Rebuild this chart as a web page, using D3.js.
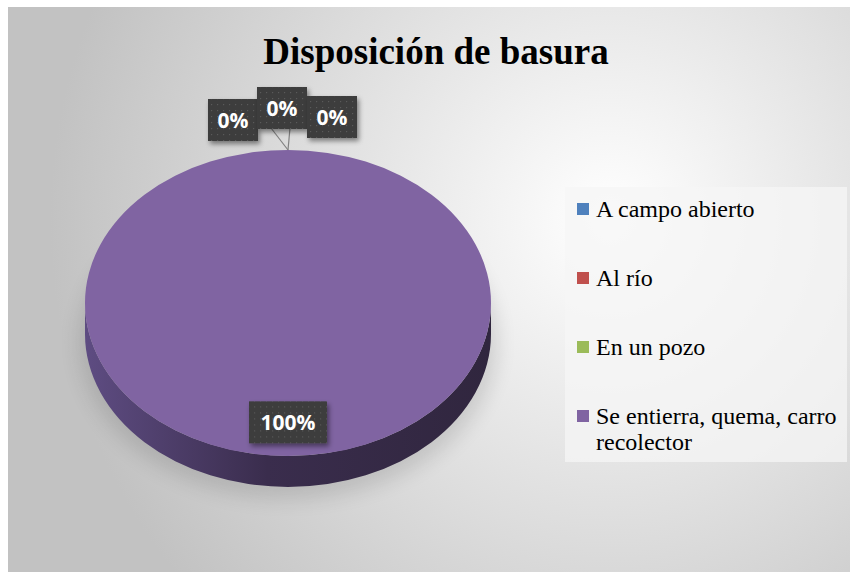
<!DOCTYPE html>
<html>
<head>
  <title>Disposición de basura</title>
  <style>
    body { margin: 0; background: #ffffff; }
    svg { display: block; }
  </style>
</head>
<body>
  <div id="chart"></div>

  <script src="https://d3js.org/d3.v7.min.js"></script>
  <script>
    // Chart data
    var title = "Disposición de basura";
    var categories = ["A campo abierto", "Al río", "En un pozo", "Se entierra, quema, carro recolector"];
    var values = [0, 0, 0, 100];
    var colors = ["#4f81bd", "#c0504d", "#9bbb59", "#8064a2"];

    var width = 850, height = 572;

    var svg = d3.select("#chart")
      .append("svg")
      .attr("width", width)
      .attr("height", height);

    var defs = svg.append("defs");

    // background gradient of the chart area
    var bg = defs.append("radialGradient")
      .attr("id", "bg")
      .attr("gradientUnits", "userSpaceOnUse")
      .attr("cx", 610).attr("cy", 220).attr("r", 560);
    bg.append("stop").attr("offset", "0%").attr("stop-color", "#ffffff");
    bg.append("stop").attr("offset", "100%").attr("stop-color", "#c2c2c2");

    // side of the pie
    var side = defs.append("linearGradient")
      .attr("id", "side")
      .attr("x1", "0%").attr("x2", "100%").attr("y1", "0%").attr("y2", "0%");
    side.append("stop").attr("offset", "0%").attr("stop-color", "#5e4c82");
    side.append("stop").attr("offset", "45%").attr("stop-color", "#3a2d4d");
    side.append("stop").attr("offset", "100%").attr("stop-color", "#30263e");

    var blur = defs.append("filter").attr("id", "blur")
      .attr("x", "-20%").attr("y", "-20%").attr("width", "140%").attr("height", "140%");
    blur.append("feGaussianBlur").attr("stdDeviation", 10);

    var shadow = defs.append("filter").attr("id", "shadow")
      .attr("x", "-30%").attr("y", "-30%").attr("width", "160%").attr("height", "160%");
    shadow.append("feDropShadow")
      .attr("dx", 2).attr("dy", 3).attr("stdDeviation", 2.5)
      .attr("flood-color", "#000").attr("flood-opacity", 0.45);

    // dotted texture for label boxes
    var pat = defs.append("pattern")
      .attr("id", "dots")
      .attr("patternUnits", "userSpaceOnUse")
      .attr("width", 6).attr("height", 6);
    pat.append("rect").attr("width", 6).attr("height", 6).attr("fill", "#3c3c3c");
    pat.append("rect").attr("x", 2).attr("y", 2).attr("width", 1.2).attr("height", 1.2).attr("fill", "#5a5a5a");

    svg.append("rect")
      .attr("x", 8).attr("y", 7)
      .attr("width", width - 8).attr("height", height - 7)
      .attr("fill", "url(#bg)");

    svg.append("text")
      .attr("x", 436).attr("y", 64)
      .attr("text-anchor", "middle")
      .attr("font-family", "'Liberation Serif', 'Times New Roman', serif")
      .attr("font-weight", "bold")
      .attr("font-size", 37)
      .attr("fill", "#000")
      .text(title);

    // 3D pie geometry
    var cx = 288, cy = 303, rx = 203, ry = 153, depth = 31;

    var pie = d3.pie().sort(null).value(function(d) { return d; });
    var arcs = pie(values);

    function pt(a, dy) {
      return [cx + rx * Math.sin(a), cy - ry * Math.cos(a) + (dy || 0)];
    }

    function topPath(d) {
      if (d.endAngle - d.startAngle >= 2 * Math.PI - 1e-6) {
        return "M" + (cx - rx) + "," + cy +
          "A" + rx + "," + ry + " 0 1,1 " + (cx + rx) + "," + cy +
          "A" + rx + "," + ry + " 0 1,1 " + (cx - rx) + "," + cy + "Z";
      }
      var p0 = pt(d.startAngle), p1 = pt(d.endAngle);
      var large = d.endAngle - d.startAngle > Math.PI ? 1 : 0;
      return "M" + cx + "," + cy + "L" + p0 + "A" + rx + "," + ry + " 0 " + large + ",1 " + p1 + "Z";
    }

    // only the front half of the side wall is visible
    function sidePath(d) {
      var a0 = Math.max(d.startAngle, Math.PI / 2);
      var a1 = Math.min(d.endAngle, 3 * Math.PI / 2);
      if (a1 <= a0) return null;
      var p0 = pt(a0), p1 = pt(a1), q0 = pt(a0, depth), q1 = pt(a1, depth);
      return "M" + p0 + "A" + rx + "," + ry + " 0 0,1 " + p1 +
        "L" + q1 + "A" + rx + "," + ry + " 0 0,0 " + q0 + "Z";
    }

    // soft shadow under the pie
    svg.append("ellipse")
      .attr("cx", cx).attr("cy", cy + depth + 8)
      .attr("rx", rx + 6).attr("ry", ry + 4)
      .attr("fill", "#000").attr("opacity", 0.12)
      .attr("filter", "url(#blur)");

    svg.selectAll("path.side")
      .data(arcs.filter(function(d) { return sidePath(d); }))
      .enter().append("path")
      .attr("class", "side")
      .attr("d", sidePath)
      .attr("fill", "url(#side)");

    svg.selectAll("path.top")
      .data(arcs.filter(function(d) { return d.value > 0; }))
      .enter().append("path")
      .attr("class", "top")
      .attr("d", topPath)
      .attr("fill", function(d) { return colors[d.index]; });

    // data labels
    var zeroOffsets = [[-55, -30], [-6, -42], [44, -33]];
    var zi = 0;
    var labels = arcs.map(function(d) {
      var mid = (d.startAngle + d.endAngle) / 2;
      var p;
      if (d.value === 0) {
        var top = pt(mid);
        var o = zeroOffsets[zi++];
        p = [top[0] + o[0], top[1] + o[1]];
      } else {
        p = [cx, cy + ry * 0.78];
      }
      return { d: d, x: p[0], y: p[1], text: Math.round(d.value / d3.sum(values) * 100) + "%" };
    });

    // leader lines for the zero slices
    var origin = pt(0);
    svg.selectAll("line.leader")
      .data([2, -17])
      .enter().append("line")
      .attr("class", "leader")
      .attr("x1", origin[0]).attr("y1", origin[1])
      .attr("x2", function(dx) { return origin[0] + dx; })
      .attr("y2", origin[1] - 22)
      .attr("stroke", "#808080").attr("stroke-width", 1.2);

    var lab = svg.selectAll("g.label")
      .data(labels)
      .enter().append("g")
      .attr("class", "label")
      .attr("transform", function(l) { return "translate(" + l.x + "," + l.y + ")"; });

    lab.append("rect")
      .attr("x", function(l) { return l.d.value === 0 ? -25 : -39; })
      .attr("y", -21)
      .attr("width", function(l) { return l.d.value === 0 ? 50 : 78; })
      .attr("height", 42)
      .attr("fill", "url(#dots)")
      .attr("filter", "url(#shadow)");

    lab.append("text")
      .attr("text-anchor", "middle")
      .attr("dy", "0.36em")
      .attr("font-family", "'Open Sans', Lato, sans-serif")
      .attr("font-weight", "bold")
      .attr("font-size", 21)
      .attr("fill", "#ffffff")
      .text(function(l) { return l.text; });

    // legend
    var legend = svg.append("g");
    legend.append("rect")
      .attr("x", 565).attr("y", 187)
      .attr("width", 282).attr("height", 275)
      .attr("fill", "#f6f6f6").attr("opacity", 0.75);

    var rowY = d3.scalePoint().domain(categories).range([209, 416]);

    var item = legend.selectAll("g.item")
      .data(categories)
      .enter().append("g")
      .attr("class", "item")
      .attr("transform", function(c) { return "translate(577," + rowY(c) + ")"; });

    item.append("rect")
      .attr("x", 0).attr("y", -6)
      .attr("width", 12).attr("height", 12)
      .attr("fill", function(c, i) { return colors[i]; });

    item.append("text")
      .attr("font-family", "'Liberation Serif', 'Times New Roman', serif")
      .attr("font-size", 24)
      .attr("fill", "#000")
      .each(function(c) {
        var t = d3.select(this);
        var parts = c === categories[3] ? ["Se entierra, quema, carro", "recolector"] : [c];
        parts.forEach(function(p, k) {
          t.append("tspan").attr("x", 19).attr("dy", k === 0 ? "0.33em" : "1.08em").text(p);
        });
      });
  </script>
</body>
</html>
